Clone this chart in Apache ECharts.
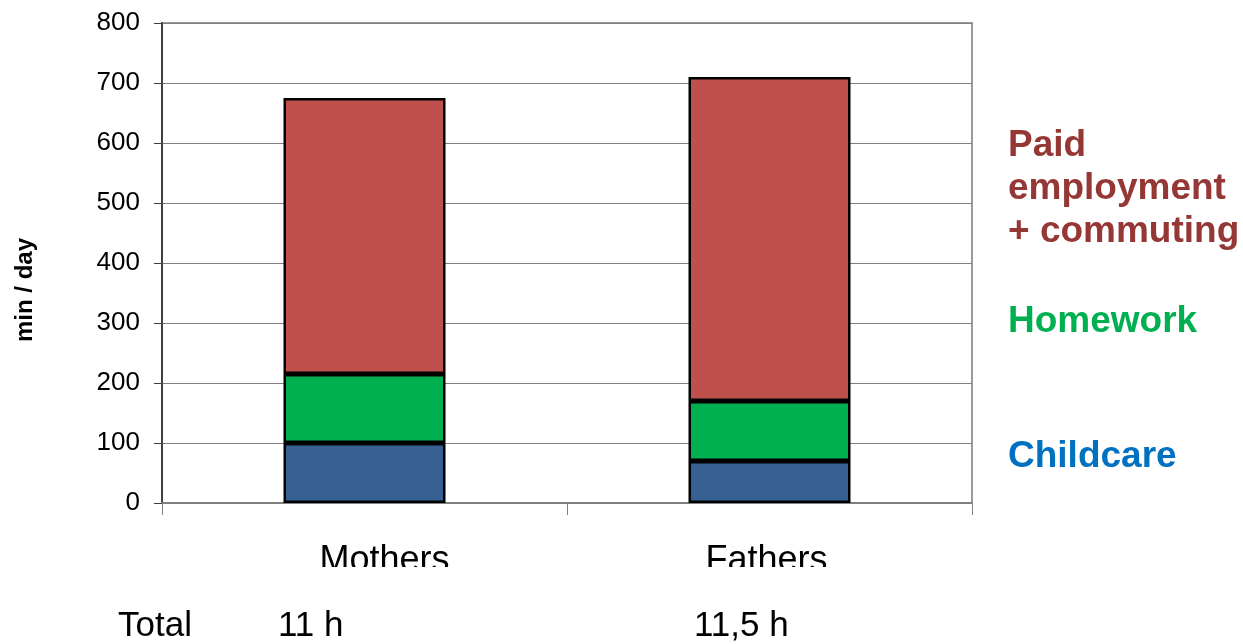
<!DOCTYPE html>
<html>
<head>
<meta charset="utf-8">
<script src="https://cdn.jsdelivr.net/npm/echarts@6/dist/echarts.min.js"></script>
<style>
  html, body { margin: 0; padding: 0; background: #ffffff; }
  #chart { width: 1243px; height: 644px; }
</style>
</head>
<body>
<div id="chart"></div>
<script>
// Daily time use of parents, minutes per day
const categories = ['Mothers', 'Fathers'];
const childcare = [100, 70];
const homework = [115, 100];
const paidEmployment = [460, 540];
const seriesNames = ['Childcare', 'Homework', 'Paid\nemployment\n+ commuting'];
const totalTitle = 'Total';
const totalLabels = ['11 h', '11,5 h'];
const yAxisName = 'min / day';

const FONT = '"Liberation Sans", Arial, sans-serif';
const barColors = ['#376092', '#00B050', '#C0504D'];
const textColors = ['#0070C0', '#00B050', '#953735'];

const chart = echarts.init(document.getElementById('chart'), null, { renderer: 'canvas' });

const grid = { left: 162, right: 271, top: 23, bottom: 141 };

function stackSeries(name, data, color) {
  return {
    name: name,
    type: 'bar',
    stack: 'time',
    data: data,
    barWidth: '40%',
    itemStyle: { color: color, borderColor: '#000000', borderWidth: 2.5 },
    emphasis: { disabled: true },
    silent: true
  };
}

chart.setOption({
  animation: false,
  backgroundColor: '#ffffff',
  textStyle: { fontFamily: FONT },
  grid: Object.assign({ show: true, borderColor: '#9a9a9a', borderWidth: 2, containLabel: false }, grid),
  xAxis: {
    type: 'category',
    data: categories,
    axisLine: { show: true, lineStyle: { color: '#808080', width: 2 } },
    axisTick: { show: true, alignWithLabel: false, length: 12, lineStyle: { color: '#808080', width: 1 } },
    axisLabel: {
      color: '#000000',
      fontSize: 36,
      fontFamily: FONT,
      margin: 40,
      formatter: function (v, i) { return i === 0 ? '{m|' + v + '}' : '{f|' + v + '}'; },
      rich: {
        m: { fontSize: 36, color: '#000', fontFamily: FONT, padding: [0, 0, 0, 40] },
        f: { fontSize: 36, color: '#000', fontFamily: FONT, padding: [0, 6, 0, 0] }
      }
    },
    splitLine: { show: false }
  },
  yAxis: {
    type: 'value',
    min: 0,
    max: 800,
    interval: 100,
    name: yAxisName,
    nameLocation: 'middle',
    nameGap: 125,
    nameRotate: 90,
    nameTextStyle: { color: '#000', fontSize: 24, fontWeight: 'bold', fontFamily: FONT, padding: [0, 54, 0, 0] },
    axisLine: { show: true, lineStyle: { color: '#404040', width: 2 } },
    axisTick: { show: true, length: 8, lineStyle: { color: '#404040', width: 1 } },
    axisLabel: { color: '#000000', fontSize: 26, fontFamily: FONT, margin: 22 },
    splitLine: { show: true, lineStyle: { color: '#808080', width: 1 } }
  },
  series: [
    stackSeries(seriesNames[0], childcare, barColors[0]),
    stackSeries(seriesNames[1], homework, barColors[1]),
    stackSeries(seriesNames[2], paidEmployment, barColors[2])
  ],
  graphic: [
    // strip that trims the lower edge of the category labels
    { type: 'rect', left: 162, top: 567, shape: { width: 820, height: 30 }, style: { fill: '#ffffff' }, z: 100 },
    // series names on the right
    { type: 'text', left: 1008, top: 124, z: 101,
      style: { text: seriesNames[2], fill: textColors[2], font: 'bold 37px ' + FONT, lineHeight: 43 } },
    { type: 'text', left: 1008, top: 303, z: 101,
      style: { text: seriesNames[1], fill: textColors[1], font: 'bold 37px ' + FONT } },
    { type: 'text', left: 1008, top: 438, z: 101,
      style: { text: seriesNames[0], fill: textColors[0], font: 'bold 37px ' + FONT } },
    // totals row
    { type: 'text', left: 118, top: 609, z: 101,
      style: { text: totalTitle, fill: '#000', font: '35px ' + FONT } },
    { type: 'text', left: 278, top: 609, z: 101,
      style: { text: totalLabels[0], fill: '#000', font: '35px ' + FONT } },
    { type: 'text', left: 694, top: 609, z: 101,
      style: { text: totalLabels[1], fill: '#000', font: '35px ' + FONT } }
  ]
});
</script>
</body>
</html>
